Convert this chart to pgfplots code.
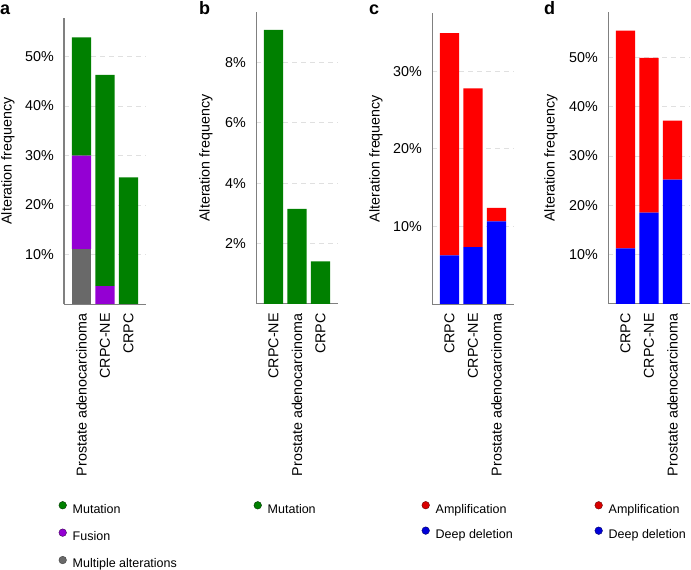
\documentclass[border=0pt]{standalone}
\usepackage{fontspec}
\setmainfont{Liberation Sans}
\usepackage{pgfplots}
\pgfplotsset{compat=1.18}
\definecolor{cgreen}{RGB}{0,128,0}
\definecolor{cpurple}{RGB}{148,0,211}
\definecolor{cgray}{RGB}{105,105,105}
\definecolor{cred}{RGB}{255,0,0}
\definecolor{cblue}{RGB}{0,0,255}
\newcommand{\mainfs}{\fontsize{14.3bp}{17bp}\selectfont}
\newcommand{\legfs}{\fontsize{12.5bp}{15bp}\selectfont}
\pgfplotsset{
 panel/.style={
  scale only axis, width=82bp, anchor=south west,
  ybar stacked, bar width=0.81,
  xmin=-0.745, xmax=2.745, ymin=0,
  xtick={0,1,2},
  axis x line*=bottom, axis y line*=left,
  axis line style={black!50, line width=1bp},
  major tick length=0pt,
  ymajorgrids, major grid style={black!12, dash pattern=on 5bp off 4bp, line width=0.8bp},
  tick label style={font=\mainfs},
  /pgf/number format/assume math mode=true,
  yticklabel={\pgfmathprintnumber{\tick}\%},
  xticklabel style={rotate=90, anchor=east, inner sep=0pt},
  yticklabel style={inner sep=0pt},
  xticklabel shift=9bp, yticklabel shift=10bp,
  ylabel={Alteration frequency}, label style={font=\mainfs},
  legend style={draw=none, fill=none, inner sep=0pt, font=\legfs, column sep=4bp,
    nodes={text height=9.5bp, text depth=2.7bp, inner sep=2bp}, anchor=north west},
  legend cell align=left,
  reverse legend,
 },
}
\begin{document}
\begin{tikzpicture}
\useasboundingbox (0,0) rectangle (691bp,570bp);
% panel a
\begin{axis}[panel, at={(64bp,266bp)}, height=286bp, ymax=57.8,
  ytick={10,20,30,40,50},
  xticklabels={Prostate adenocarcinoma, CRPC-NE, CRPC},
  ylabel style={at={(axis description cs:-0.683,0.5)}, anchor=center},
  legend style={at={(axis description cs:-0.067,-0.689)}, row sep=10.8bp}]
\addplot[fill=cgray, draw=none, legend image code/.code={\filldraw[fill=cgray, draw=black!75, line width=0.4bp] (0bp,4.5bp) circle[radius=3.8bp];}]
  coordinates {(0,11.1) (1,0) (2,0)};
\addlegendentry{Multiple alterations}
\addplot[fill=cpurple, draw=none, legend image code/.code={\filldraw[fill=cpurple, draw=black!60!cpurple, line width=0.4bp] (0bp,4.5bp) circle[radius=3.8bp];}]
  coordinates {(0,18.9) (1,3.6) (2,0)};
\addlegendentry{Fusion}
\addplot[fill=cgreen, draw=none, legend image code/.code={\filldraw[fill=cgreen, draw=black!60!cgreen, line width=0.4bp] (0bp,4.5bp) circle[radius=3.8bp];}]
  coordinates {(0,23.9) (1,42.7) (2,25.6)};
\addlegendentry{Mutation}
\end{axis}
% panel b
\begin{axis}[panel, at={(256bp,266bp)}, height=292bp, ymax=9.67,
  ytick={2,4,6,8},
  xticklabels={CRPC-NE, Prostate adenocarcinoma, CRPC},
  ylabel style={at={(axis description cs:-0.61,0.5)}, anchor=center},
  legend style={at={(axis description cs:-0.03,-0.675)}, row sep=10.8bp}]
\addplot[fill=cgreen, draw=none, legend image code/.code={\filldraw[fill=cgreen, draw=black!60!cgreen, line width=0.4bp] (0bp,4.5bp) circle[radius=3.8bp];}]
  coordinates {(0,9.08) (1,3.15) (2,1.41)};
\addlegendentry{Mutation}
\end{axis}
% panel c
\begin{axis}[panel, at={(432bp,266bp)}, height=291bp, ymax=37.5,
  ytick={10,20,30},
  xticklabels={CRPC, CRPC-NE, Prostate adenocarcinoma},
  ylabel style={at={(axis description cs:-0.683,0.5)}, anchor=center},
  legend style={at={(axis description cs:-0.128,-0.677)}, row sep=8.8bp}]
\addplot[fill=cblue, draw=none, legend image code/.code={\filldraw[fill=cblue!85!black, draw=black!60!cblue, line width=0.4bp] (0bp,4.5bp) circle[radius=3.8bp];}]
  coordinates {(0,6.26) (1,7.34) (2,10.65)};
\addlegendentry{Deep deletion}
\addplot[fill=cred, draw=none, legend image code/.code={\filldraw[fill=cred!85!black, draw=black!60!cred, line width=0.4bp] (0bp,4.5bp) circle[radius=3.8bp];}]
  coordinates {(0,28.64) (1,20.46) (2,1.75)};
\addlegendentry{Amplification}
\end{axis}
% panel d
\begin{axis}[panel, at={(608bp,266bp)}, height=292bp, ymax=59.2,
  ytick={10,20,30,40,50},
  xticklabels={CRPC, CRPC-NE, Prostate adenocarcinoma},
  ylabel style={at={(axis description cs:-0.695,0.5)}, anchor=center},
  legend style={at={(axis description cs:-0.165,-0.675)}, row sep=8.8bp}]
\addplot[fill=cblue, draw=none, legend image code/.code={\filldraw[fill=cblue!85!black, draw=black!60!cblue, line width=0.4bp] (0bp,4.5bp) circle[radius=3.8bp];}]
  coordinates {(0,11.3) (1,18.5) (2,25.2)};
\addlegendentry{Deep deletion}
\addplot[fill=cred, draw=none, legend image code/.code={\filldraw[fill=cred!85!black, draw=black!60!cred, line width=0.4bp] (0bp,4.5bp) circle[radius=3.8bp];}]
  coordinates {(0,44.1) (1,31.4) (2,12.0)};
\addlegendentry{Amplification}
\end{axis}
\node[anchor=base west, inner sep=0pt, font=\bfseries\fontsize{18bp}{20bp}\selectfont] at (0bp,555bp) {a};
\node[anchor=base west, inner sep=0pt, font=\bfseries\fontsize{18bp}{20bp}\selectfont] at (199bp,555bp) {b};
\node[anchor=base west, inner sep=0pt, font=\bfseries\fontsize{18bp}{20bp}\selectfont] at (369bp,555bp) {c};
\node[anchor=base west, inner sep=0pt, font=\bfseries\fontsize{18bp}{20bp}\selectfont] at (544bp,555bp) {d};
\end{tikzpicture}
\end{document}
